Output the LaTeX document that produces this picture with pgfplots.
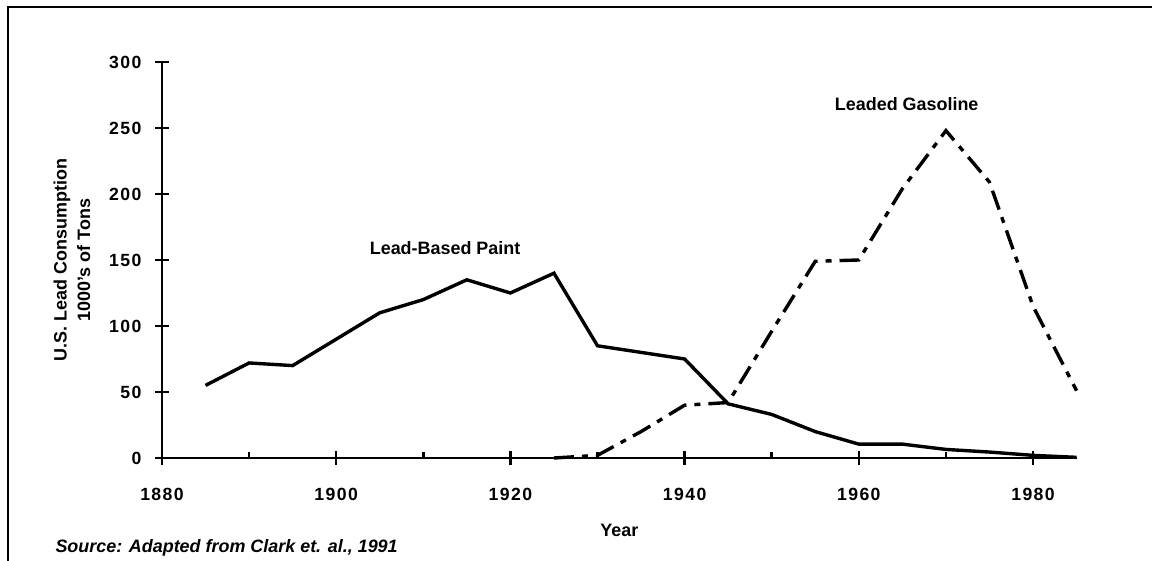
\documentclass[border=0pt]{standalone}
\usepackage{fontspec}
\setmainfont{Liberation Sans}
\newfontfamily\tickfont{Liberation Sans Bold}[LetterSpace=8]
\usepackage{pgfplots}
\pgfplotsset{compat=1.18}
\begin{document}
\begin{tikzpicture}[x=1bp,y=1bp]
\path[use as bounding box] (0,0) rectangle (1152,561);
\draw[line width=2bp] (8,0) -- (8,554) -- (1152,554);
\begin{axis}[
  at={(162bp,103bp)}, anchor=south west,
  x=8.71bp, y=1.32bp,
  xmin=1880, xmax=1985, ymin=0, ymax=300,
  clip=false,
  axis x line*=bottom, axis y line*=left,
  axis line style={line width=2.5bp, -},
  xtick={1880,1900,...,1980},
  ytick={0,50,...,300},
  extra x ticks={1890,1910,1930,1950,1970},
  extra x tick labels={},
  extra x tick style={tick align=inside, major tick length=6bp},
  tick align=center,
  major tick length=14bp,
  tick style={line width=2.5bp, black},
  /pgf/number format/assume math mode=true,
  /pgf/number format/1000 sep={},
  tick label style={font=\tickfont\fontsize{17.7}{17.7}\selectfont},
  xticklabel style={yshift=-20bp},
  yticklabel style={xshift=-10bp},
  xlabel={Year},
  xlabel style={font=\bfseries\fontsize{18}{18}\selectfont, at={(axis description cs:0.5,0)}, anchor=center, yshift=-72bp},
  ylabel={U.S. Lead Consumption\\1000's of Tons},
  ylabel style={font=\bfseries\fontsize{18}{23.5}\selectfont, align=center, at={(axis description cs:0,0.5)}, anchor=center, yshift=90bp},
]
\addplot[black, line width=3.4bp, line join=miter] coordinates {
(1885,55) (1890,72) (1895,70) (1900,90) (1905,110) (1910,120) (1915,135)
(1920,125) (1925,140) (1930,85) (1935,80) (1940,75) (1945,41) (1950,33)
(1955,20) (1960,10.5) (1965,10.5) (1970,6.5) (1975,4.5) (1980,2) (1985,0.5)
};
\addplot[black, line width=3.4bp, dash pattern=on 20bp off 8bp on 6bp off 8bp] coordinates {
(1925,0) (1930,2) (1935,20) (1940,40) (1945,42) (1950,96) (1955,149)
(1960,150) (1965,204) (1970,248) (1975,209) (1980,115) (1985,51)
};
\node[font=\bfseries\fontsize{18}{18}\selectfont] at (axis cs:1912.5,159) {Lead-Based Paint};
\node[font=\bfseries\fontsize{18}{18}\selectfont] at (axis cs:1965.5,268) {Leaded Gasoline};
\end{axis}
\node[font=\bfseries\itshape\fontsize{18}{18}\selectfont, anchor=west] at (52,13) {Source: Adapted from Clark et. al., 1991};
\end{tikzpicture}
\end{document}
